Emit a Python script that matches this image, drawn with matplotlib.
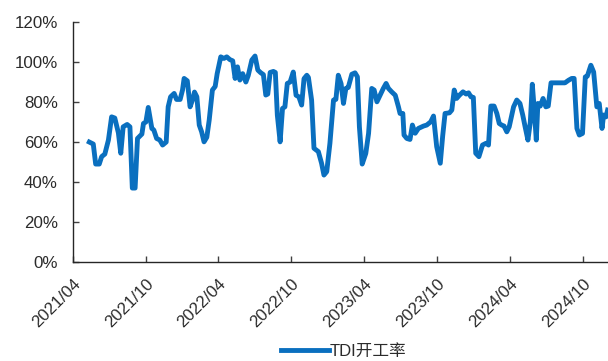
import matplotlib
matplotlib.use("Agg")
import matplotlib.pyplot as plt
import pandas as pd

plt.rcParams['font.family'] = ['Liberation Sans', 'Noto Sans CJK SC', 'DejaVu Sans']

dates = [
    "2021-05-12", "2021-05-22", "2021-05-28", "2021-06-06", "2021-06-12", "2021-06-20", "2021-06-29",
    "2021-07-07", "2021-07-15", "2021-07-24", "2021-07-30", "2021-08-05", "2021-08-15", "2021-08-22",
    "2021-08-28", "2021-09-04", "2021-09-10", "2021-09-16", "2021-09-21", "2021-09-25", "2021-10-01",
    "2021-10-07", "2021-10-16", "2021-10-21", "2021-10-28", "2021-11-05", "2021-11-12", "2021-11-21",
    "2021-11-26", "2021-12-02", "2021-12-11", "2021-12-17", "2021-12-26", "2022-01-01", "2022-01-05",
    "2022-01-13", "2022-01-20", "2022-01-27", "2022-01-31", "2022-02-06", "2022-02-12", "2022-02-18",
    "2022-02-24", "2022-03-03", "2022-03-09", "2022-03-17", "2022-03-24", "2022-03-29", "2022-04-07",
    "2022-04-15", "2022-04-22", "2022-04-30", "2022-05-07", "2022-05-13", "2022-05-19", "2022-05-25",
    "2022-06-01", "2022-06-09", "2022-06-15", "2022-06-24", "2022-07-02", "2022-07-09", "2022-07-16",
    "2022-07-23", "2022-07-29", "2022-08-03", "2022-08-09", "2022-08-17", "2022-08-22", "2022-08-27",
    "2022-09-03", "2022-09-09", "2022-09-15", "2022-09-21", "2022-09-28", "2022-10-06", "2022-10-13",
    "2022-10-20", "2022-10-27", "2022-11-02", "2022-11-09", "2022-11-13", "2022-11-21", "2022-11-27",
    "2022-12-08", "2022-12-16", "2022-12-22", "2022-12-29", "2023-01-06", "2023-01-15", "2023-01-21",
    "2023-01-27", "2023-02-03", "2023-02-09", "2023-02-15", "2023-02-21", "2023-03-02", "2023-03-10",
    "2023-03-16", "2023-03-21", "2023-03-28", "2023-04-06", "2023-04-13", "2023-04-21", "2023-04-27",
    "2023-05-04", "2023-05-10", "2023-05-20", "2023-05-27", "2023-06-02", "2023-06-10", "2023-06-19",
    "2023-06-27", "2023-07-01", "2023-07-08", "2023-07-11", "2023-07-18", "2023-07-26", "2023-08-01",
    "2023-08-08", "2023-08-16", "2023-08-29", "2023-09-06", "2023-09-16", "2023-09-23", "2023-10-01",
    "2023-10-10", "2023-10-16", "2023-10-22", "2023-11-02", "2023-11-08", "2023-11-14", "2023-11-20",
    "2023-11-27", "2023-12-06", "2023-12-14", "2023-12-20", "2023-12-26", "2024-01-01", "2024-01-07",
    "2024-01-15", "2024-01-24", "2024-02-02", "2024-02-08", "2024-02-14", "2024-02-22", "2024-02-29",
    "2024-03-06", "2024-03-12", "2024-03-18", "2024-03-25", "2024-03-31", "2024-04-11", "2024-04-19",
    "2024-04-27", "2024-05-04", "2024-05-10", "2024-05-17", "2024-05-23", "2024-05-28", "2024-06-02",
    "2024-06-07", "2024-06-11", "2024-06-17", "2024-06-24", "2024-07-01", "2024-07-07", "2024-07-14",
    "2024-07-24", "2024-08-06", "2024-08-18", "2024-08-27", "2024-09-04", "2024-09-10", "2024-09-17",
    "2024-09-23", "2024-10-01", "2024-10-08", "2024-10-13", "2024-10-22", "2024-10-29", "2024-11-06",
    "2024-11-12", "2024-11-19", "2024-11-23", "2024-11-29", "2024-12-03",
]

tdi_rate = [
    60.0, 59.0, 49.0, 49.0, 52.7, 54.0, 61.0,
    72.6, 72.0, 64.6, 54.4, 67.6, 68.8, 67.6,
    37.0, 37.0, 61.8, 63.0, 64.0, 69.3, 70.0,
    77.3, 66.8, 66.0, 61.8, 61.0, 58.5, 60.0,
    77.6, 82.6, 84.3, 81.3, 81.3, 86.0, 91.8,
    90.6, 77.6, 81.6, 85.0, 82.6, 68.5, 65.1,
    60.1, 62.4, 71.0, 86.0, 87.8, 94.2, 102.6,
    101.8, 102.6, 101.2, 100.6, 91.8, 97.6, 91.0,
    94.2, 90.0, 93.3, 101.0, 103.0, 96.0, 94.7,
    93.7, 83.5, 84.0, 94.8, 95.3, 94.8, 73.5,
    60.1, 76.8, 77.6, 89.3, 90.0, 95.0, 83.4,
    82.6, 78.5, 91.7, 93.4, 92.3, 81.0, 56.9,
    55.2, 49.4, 43.5, 45.2, 59.4, 81.0, 81.3,
    93.4, 89.2, 79.3, 86.8, 87.3, 93.9, 94.6,
    92.6, 67.6, 49.0, 54.3, 64.3, 86.8, 86.0,
    80.1, 82.6, 86.8, 89.3, 86.8, 85.1, 83.4,
    77.6, 74.3, 74.3, 63.5, 61.8, 61.3, 68.5,
    64.4, 66.8, 68.0, 68.5, 70.1, 73.0, 57.7,
    49.4, 63.0, 74.3, 74.6, 76.0, 86.0, 81.8,
    83.4, 85.1, 84.0, 84.6, 82.6, 82.3, 54.4,
    52.7, 58.5, 59.4, 58.5, 78.0, 78.0, 74.3,
    69.3, 68.5, 68.0, 65.1, 67.6, 77.6, 81.0,
    79.3, 73.5, 67.6, 61.0, 70.0, 88.9, 76.0,
    61.0, 79.3, 78.0, 81.8, 77.6, 78.0, 89.6,
    89.6, 89.6, 89.6, 90.9, 91.8, 91.8, 66.8,
    63.5, 64.3, 92.6, 92.9, 98.4, 95.0, 77.6,
    79.3, 66.8, 73.5, 72.6, 76.0,
]

tick_labels = ["2021/04", "2021/10", "2022/04", "2022/10",
               "2023/04", "2023/10", "2024/04", "2024/10"]
y_ticks = [0, 20, 40, 60, 80, 100, 120]
series_name = "TDI开工率"

x = pd.to_datetime(dates)
tick_dates = pd.to_datetime([t.replace("/", "-") + "-01" for t in tick_labels])

fig = plt.figure(figsize=(6.08, 3.61), dpi=100)
ax = fig.add_axes([0.120, 0.274, 0.880, 0.665])

line_color = "#0A6FBF"
ax.plot(x, tdi_rate, color=line_color, linewidth=3.5, solid_joinstyle="round",
        label=series_name)

ax.set_ylim(0, 120)
ax.set_yticks(y_ticks)
ax.set_yticklabels([f"{v}%" for v in y_ticks])
ax.set_xlim(pd.Timestamp("2021-04-01"), pd.Timestamp("2024-12-04"))
ax.set_xticks(tick_dates)
ax.set_xticklabels(tick_labels, rotation=45, ha="right", rotation_mode="anchor")

for side in ("top", "right"):
    ax.spines[side].set_visible(False)
for side in ("left", "bottom"):
    ax.spines[side].set_color("#262626")
    ax.spines[side].set_linewidth(1.0)

ax.tick_params(axis="both", direction="in", length=4, width=1.0, color="#404040",
               labelsize=12.2, labelcolor="#2b2b2b")
ax.tick_params(axis="y", pad=11)
ax.tick_params(axis="x", pad=10)

leg = fig.legend(loc="center", bbox_to_anchor=(0.565, 1 - 351 / 361), frameon=False,
                 fontsize=12, handlelength=2.9, handletextpad=0.05)
for t in leg.get_texts():
    t.set_color("#2b2b2b")

fig.savefig("out.png", dpi=100)
